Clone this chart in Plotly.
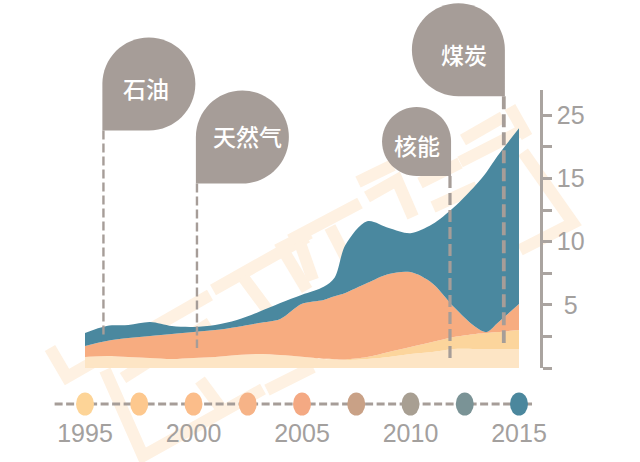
"""Energy mix area chart with pin labels and a year timeline."""
import plotly.graph_objects as go

W, H = 640, 462

# Chart data
YEARS = [1995, 1996, 1997, 1998, 1999, 2000, 2001, 2002, 2003, 2004, 2005,
         2006, 2006.5, 2007, 2008, 2009, 2010, 2011, 2012, 2013, 2013.5, 2014, 2015]
NUCLEAR = [0.87, 0.95, 0.87, 0.79, 0.71, 0.79, 0.87, 1.03, 1.11, 1.03, 0.87,
           0.71, 0.67, 0.63, 0.71, 0.87, 1.11, 1.26, 1.50, 1.50, 1.50, 1.50, 1.50]
COAL = [0, 0, 0, 0, 0, 0, 0, 0, 0, 0, 0.02,
        0.02, 0.03, 0.05, 0.16, 0.40, 0.55, 0.79, 0.95, 1.19, 1.26, 1.34, 1.50]
GAS = [0.87, 1.19, 1.50, 1.74, 1.98, 2.06, 2.13, 2.21, 2.45, 2.85, 4.19,
       4.66, 4.98, 5.26, 5.85, 6.17, 5.93, 4.66, 2.37, 0.55, 0.08, 0.71, 2.06]
OIL = [1.03, 1.19, 1.03, 1.11, 0.63, 0.40, 0.40, 0.55, 0.87, 1.26, 0.71,
       1.03, 1.46, 3.79, 4.90, 3.64, 3.08, 4.66, 7.90, 11.23, 12.65, 13.20, 13.91]

PIN_LABELS = ["石油", "天然气", "核能", "煤炭"]
PIN_YEARS = [1995.85, 2000.16, 2011.82, 2014.3]
PIN_STEM_END = [2.45, 1.58, 0.71, 1.98]
PIN_STEM_TOP = [18.8, 14.6, 15.2, 21.5]

TIMELINE_YEARS = [1995, 1997.5, 2000, 2002.5, 2005, 2007.5, 2010, 2012.5, 2015]
TIMELINE_COLORS = ["#fdd497", "#fdc88e", "#fbbd8a", "#f6b387", "#f4a983",
                   "#c9a186", "#a89f92", "#7a9396", "#4b879d"]

X_TICKS = [1995, 2000, 2005, 2010, 2015]
Y_TICKS = [0, 2.5, 5, 7.5, 10, 12.5, 15, 17.5, 20]
Y_TICK_TEXT = ["", "", "\u00a05", "", "10", "", "15", "", "25"]

GRAY = "#a69d98"
TEXT_GRAY = "#a3a09e"
WATERMARK_COLOR = "#fef1e2"

# Faint background watermark, pixel polylines
WATERMARK = [
    [(50, 348), (67, 377), (210, 295)],
    [(105, 370), (143, 456), (263, 389)],
    [(123, 378), (210, 323)],
    [(200, 380), (220, 407)],
    [(267, 390), (313, 367)],
    [(213, 290), (307, 237)],
    [(243, 277), (275, 320)],
    [(277, 250), (310, 233)],
    [(283, 250), (307, 290)],
    [(290, 240), (360, 203)],
    [(300, 243), (313, 280)],
    [(330, 227), (347, 260)],
    [(358, 182), (393, 165)],
    [(367, 197), (397, 180), (413, 217)],
    [(420, 183), (460, 163)],
    [(433, 207), (477, 187)],
    [(460, 162), (523, 130)],
    [(463, 140), (503, 117)],
    [(510, 107), (527, 137)],
    [(523, 152), (573, 223), (520, 250)],
]

X_DOMAIN = [0, 540 / W]
Y_DOMAIN = [94 / H, 372 / H]
Y_MAX = 22


def px(x, y):
    return x / W, 1 - y / H


def y_paper(v):
    return Y_DOMAIN[0] + v / Y_MAX * (Y_DOMAIN[1] - Y_DOMAIN[0])


def pin_path(r, d):
    # teardrop with its square corner at the anchor, pixel units pointing up
    k = 0.5523 * r
    x = lambda v: v * d
    return (
        f"M 0,0 L 0,{r} "
        f"C 0,{r + k} {x(r - k)},{2 * r} {x(r)},{2 * r} "
        f"C {x(r + k)},{2 * r} {x(2 * r)},{r + k} {x(2 * r)},{r} "
        f"C {x(2 * r)},{r - k} {x(r + k)},0 {x(r)},0 Z"
    )


fig = go.Figure()

areas = [("核能", NUCLEAR, "#fde5c5"), ("煤炭", COAL, "#fcd59c"),
         ("天然气", GAS, "#f7ac80"), ("石油", OIL, "#4a889f")]
for name, values, color in areas:
    fig.add_trace(go.Scatter(
        x=YEARS, y=values, name=name, mode="lines", stackgroup="energy",
        line=dict(width=0, shape="spline", smoothing=0.9), fillcolor=color,
    ))

# Pin stems
stem_widths = [2.4, 2.4, 3.2, 3.8]
stem_dash = ["9px,4px", "9px,4px", "12px,5px", "13px,5px"]
for i, name in enumerate(PIN_LABELS):
    fig.add_trace(go.Scatter(
        x=[PIN_YEARS[i], PIN_YEARS[i]], y=[PIN_STEM_TOP[i], PIN_STEM_END[i]],
        mode="lines", line=dict(color=GRAY, width=stem_widths[i], dash=stem_dash[i]),
    ))

shapes = []
for line in WATERMARK:
    path = "M " + " L ".join(f"{px(*p)[0]:.4f},{px(*p)[1]:.4f}" for p in line)
    shapes.append(dict(type="path", path=path, xref="paper", yref="paper", layer="below",
                       line=dict(color=WATERMARK_COLOR, width=12)))

# Timeline
timeline_y = 1 - 404 / H
shapes.append(dict(type="line", xref="x", yref="paper", x0=1993.6, x1=2015.6,
                   y0=timeline_y, y1=timeline_y,
                   line=dict(color=GRAY, width=3, dash="8px,3.5px")))
for year, color in zip(TIMELINE_YEARS, TIMELINE_COLORS):
    shapes.append(dict(type="circle", xref="x", yref="paper", xsizemode="pixel", ysizemode="pixel",
                       xanchor=year, yanchor=timeline_y, x0=-9, x1=9, y0=-11.5, y1=11.5,
                       fillcolor=color, line=dict(width=0)))

# Pin heads
pin_radius = [46.5, 46.5, 34.5, 46.5]
pin_dir = [1, 1, -1, -1]
for i in range(4):
    shapes.append(dict(type="path", xref="x", yref="paper", xsizemode="pixel", ysizemode="pixel",
                       xanchor=PIN_YEARS[i] - 0.05 * pin_dir[i], yanchor=y_paper(PIN_STEM_TOP[i]),
                       path=pin_path(pin_radius[i], pin_dir[i]),
                       fillcolor=GRAY, line=dict(width=0)))

label_pos = [(145.5, 87.5), (247.5, 136.5), (417, 145), (464, 53.5)]
annotations = []
for text, (lx, ly) in zip(PIN_LABELS, label_pos):
    ax, ay = px(lx, ly)
    annotations.append(dict(text=text, x=ax, y=ay, xref="paper", yref="paper", showarrow=False,
                            xanchor="center", yanchor="middle",
                            font=dict(family="Noto Sans CJK SC", size=23, color="white", weight=500)))

fig.update_layout(
    width=W, height=H, margin=dict(l=0, r=0, t=0, b=0, pad=0, autoexpand=False),
    paper_bgcolor="white", plot_bgcolor="rgba(0,0,0,0)", showlegend=False,
    shapes=shapes, annotations=annotations,
    font=dict(family="Liberation Sans", size=25, color=TEXT_GRAY),
    xaxis=dict(domain=X_DOMAIN, range=[1991.083, 2015.968], showgrid=False, zeroline=False,
               automargin=False, tickmode="array", tickvals=X_TICKS, ticklabelstandoff=48, ticks=""),
    yaxis=dict(domain=Y_DOMAIN, range=[0, Y_MAX], side="right", showgrid=False, zeroline=False,
               automargin=False, showline=True, linecolor="#aaa4a0", linewidth=2.5,
               tickmode="array", tickvals=Y_TICKS, ticktext=Y_TICK_TEXT,
               ticks="outside", ticklen=9, tickwidth=3, tickcolor="#aaa4a0"),
)

fig.write_html("out.html", config=dict(displayModeBar=False), post_script="document.body.style.margin='0';")
